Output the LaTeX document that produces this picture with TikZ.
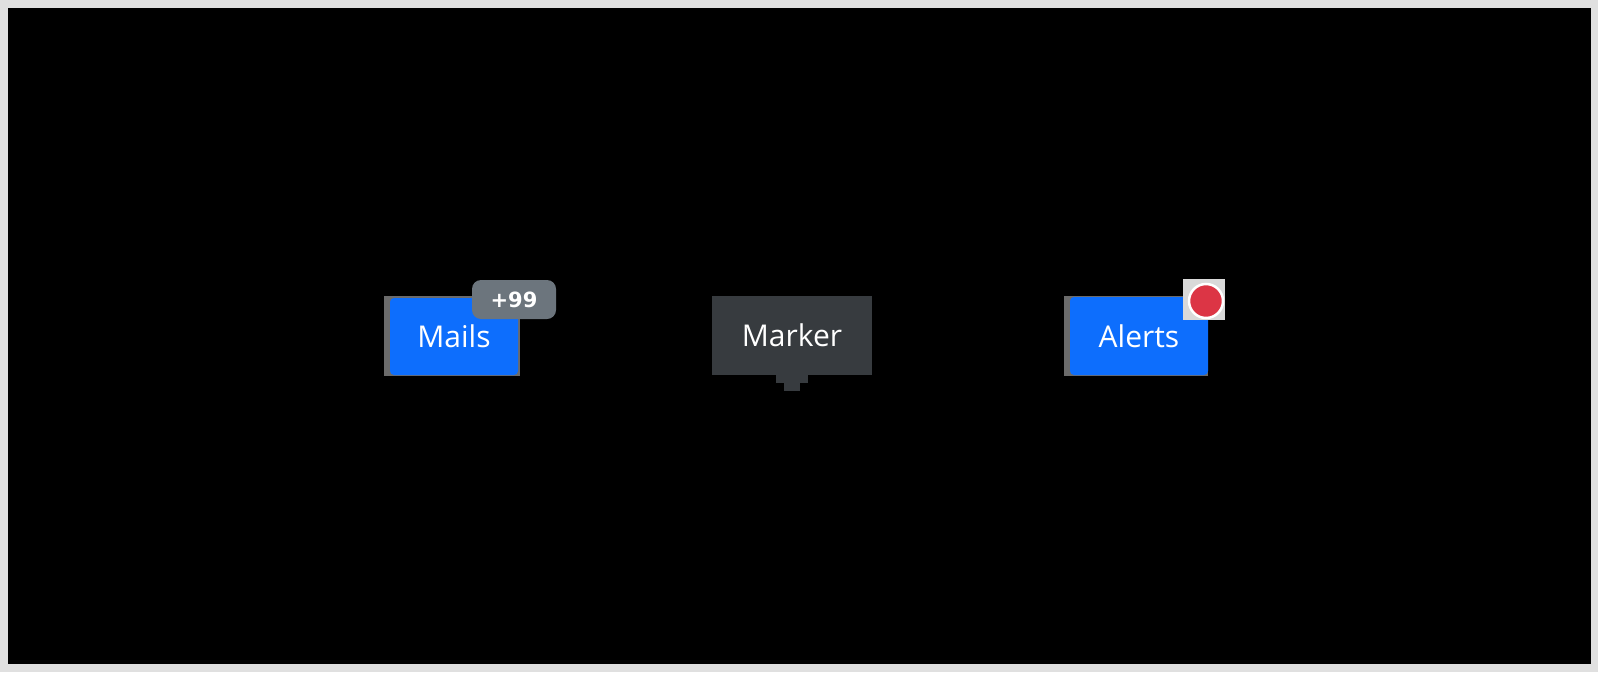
\documentclass[tikz,border=0pt]{standalone}
\usepackage{fontspec}
\setmainfont{Open Sans}
\newfontfamily\badgefont{DejaVu Sans}
\usetikzlibrary{positioning}

\definecolor{framegray}{HTML}{E0E0E0}
\definecolor{btnblue}{HTML}{0D6EFD}
\definecolor{btnshade}{HTML}{6B6B6B}
\definecolor{badgegray}{HTML}{6C757D}
\definecolor{markerdark}{HTML}{373B3F}
\definecolor{dotred}{HTML}{DC3545}
\definecolor{dotshade}{HTML}{D9D9D9}

\tikzset{
    btnshade/.style={fill=btnshade, inner sep=0pt, minimum height=80pt},
    btnbox/.style={fill=btnblue, text=white, inner sep=0pt, rounded corners=4pt,
        font=\fontsize{30pt}{35pt}\selectfont},
}

\begin{document}
\begin{tikzpicture}[x=1pt,y=-1pt]

% frame
\useasboundingbox (0,0) rectangle (1598,672);
\fill [framegray] (0,0) rectangle (1598,672);
\fill [black] (8,8) rectangle (1591,664);

% Mails
\node (mailsback) [btnshade,
    minimum width=136pt,
    xshift=452pt,
    yshift=-336pt
] {};
\node (mails) [btnbox,
    minimum width=128pt,
    minimum height=77pt,
    xshift=454pt,
    yshift=-336.5pt
] {Mails};
\node (mailsbadge) [
    fill=badgegray,
    text=white,
    inner sep=0pt,
    rounded corners=9pt,
    minimum width=84pt,
    minimum height=39pt,
    font=\badgefont\bfseries\fontsize{21pt}{24pt}\selectfont,
    xshift=514pt,
    yshift=-299.5pt
] {+99};

% Marker
\node (marker) [
    fill=markerdark,
    text=white,
    inner sep=0pt,
    outer sep=0pt,
    minimum width=160pt,
    minimum height=79pt,
    font=\fontsize{30pt}{35pt}\selectfont,
    xshift=792pt,
    yshift=-335.5pt
] {Marker};
\node (markertip) [
    fill=markerdark,
    inner sep=0pt,
    outer sep=0pt,
    minimum width=32pt,
    minimum height=8.5pt,
    below=-0.5pt of marker
] {};
\node (markertipend) [
    fill=markerdark,
    inner sep=0pt,
    outer sep=0pt,
    minimum width=16pt,
    minimum height=8.5pt,
    below=-0.5pt of markertip
] {};

% Alerts
\node (alertsback) [btnshade,
    minimum width=144pt,
    xshift=1136pt,
    yshift=-336pt
] {};
\node (alerts) [btnbox,
    minimum width=138pt,
    minimum height=78pt,
    xshift=1139pt,
    yshift=-336pt
] {Alerts};
\node (alertsdotback) [
    fill=dotshade,
    inner sep=0pt,
    minimum width=42pt,
    minimum height=41pt,
    xshift=1204pt,
    yshift=-299.5pt
] {};
\node (alertsdot) [
    circle,
    fill=dotred,
    draw=white,
    line width=2.5pt,
    inner sep=0pt,
    minimum size=34pt,
    xshift=1206pt,
    yshift=-301pt
] {};

\end{tikzpicture}
\end{document}
